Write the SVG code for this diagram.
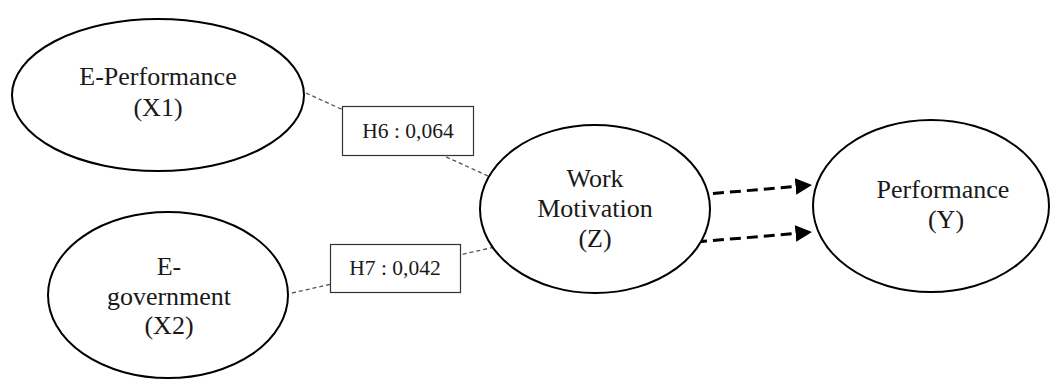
<svg xmlns="http://www.w3.org/2000/svg" width="1062" height="380" viewBox="0 0 1062 380">
<defs>
<style>
.node{fill:#fff;stroke:#000;stroke-width:2}
.t{font-family:"Liberation Serif","Times New Roman",serif;font-size:26px;fill:#1a1a1a;text-anchor:middle}
.lt{font-family:"Liberation Serif","Times New Roman",serif;font-size:21.5px;fill:#1a1a1a;text-anchor:middle}
.box{fill:#fff;stroke:#333;stroke-width:1.2}
.thin{stroke:#555;stroke-width:1.3;stroke-dasharray:4 3;fill:none}
.thick{stroke:#000;stroke-width:3;stroke-dasharray:11 6;fill:none}
</style>
<marker id="ah" viewBox="0 0 10 10" refX="10" refY="5" markerWidth="5.5" markerHeight="5.5" markerUnits="strokeWidth" orient="auto">
<path d="M0,0 L10,5 L0,10 Z" fill="#000"/>
</marker>
</defs>
<rect width="1062" height="380" fill="#fff"/>
<g id="connectors">
<line class="thin" x1="306" y1="93" x2="488" y2="176"/>
<line class="thin" x1="292" y1="293" x2="508" y2="244"/>
<line class="thick" x1="696" y1="195" x2="812" y2="185" marker-end="url(#ah)"/>
<line class="thick" x1="696" y1="242" x2="812" y2="232" marker-end="url(#ah)"/>
</g>
<g id="x1">
<ellipse class="node" cx="158" cy="95" rx="146" ry="76"/>
<text class="t" x="158" y="85">E-Performance</text>
<text class="t" x="158" y="116">(X1)</text>
</g>
<g id="x2">
<ellipse class="node" cx="168" cy="295" rx="120" ry="83"/>
<text class="t" x="169" y="275">E-</text>
<text class="t" x="169" y="305">government</text>
<text class="t" x="169" y="334">(X2)</text>
</g>
<g id="z">
<ellipse class="node" cx="595" cy="209" rx="115" ry="84"/>
<text class="t" x="595" y="187">Work</text>
<text class="t" x="595" y="217">Motivation</text>
<text class="t" x="595" y="247">(Z)</text>
</g>
<g id="y">
<ellipse class="node" cx="931" cy="206" rx="118" ry="86"/>
<text class="t" x="943" y="198">Performance</text>
<text class="t" x="946" y="228">(Y)</text>
</g>
<g id="h6">
<rect class="box" x="342.5" y="106.5" width="131" height="49"/>
<text class="lt" x="408" y="138">H6 : 0,064</text>
</g>
<g id="h7">
<rect class="box" x="330.5" y="244.5" width="130" height="48"/>
<text class="lt" x="395" y="275">H7 : 0,042</text>
</g>
</svg>
